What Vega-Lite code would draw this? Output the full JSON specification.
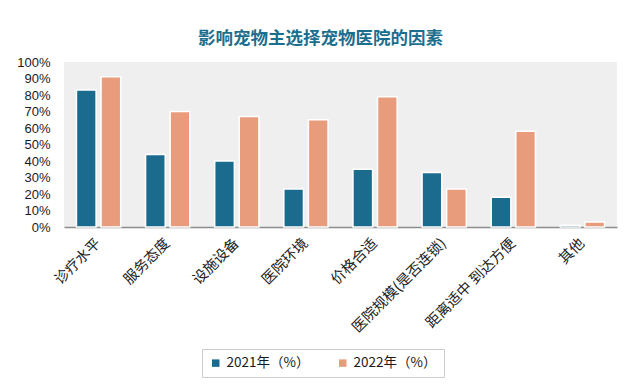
{
  "$schema": "https://vega.github.io/schema/vega-lite/v6.json",
  "width": 553,
  "height": 165,
  "autosize": {"type": "none"},
  "padding": {"left": 64, "top": 62, "right": 23, "bottom": 164},
  "background": "#FFFFFF",
  "title": {
    "text": "影响宠物主选择宠物医院的因素",
    "font": "Noto Sans CJK SC",
    "fontSize": 17.5,
    "fontWeight": "bold",
    "color": "#1C6E8E",
    "anchor": "middle",
    "dx": -20,
    "offset": 9
  },
  "data": {
    "values": [
      {"factor": "诊疗水平", "year": "2021年（%）", "value": 0.83},
      {"factor": "诊疗水平", "year": "2022年（%）", "value": 0.91},
      {"factor": "服务态度", "year": "2021年（%）", "value": 0.44},
      {"factor": "服务态度", "year": "2022年（%）", "value": 0.70},
      {"factor": "设施设备", "year": "2021年（%）", "value": 0.40},
      {"factor": "设施设备", "year": "2022年（%）", "value": 0.67},
      {"factor": "医院环境", "year": "2021年（%）", "value": 0.23},
      {"factor": "医院环境", "year": "2022年（%）", "value": 0.65},
      {"factor": "价格合适", "year": "2021年（%）", "value": 0.35},
      {"factor": "价格合适", "year": "2022年（%）", "value": 0.79},
      {"factor": "医院规模(是否连锁)", "year": "2021年（%）", "value": 0.33},
      {"factor": "医院规模(是否连锁)", "year": "2022年（%）", "value": 0.23},
      {"factor": "距离适中 到达方便", "year": "2021年（%）", "value": 0.18},
      {"factor": "距离适中 到达方便", "year": "2022年（%）", "value": 0.58},
      {"factor": "其他", "year": "2021年（%）", "value": 0.01},
      {"factor": "其他", "year": "2022年（%）", "value": 0.03}
    ]
  },
  "mark": {"type": "bar", "stroke": "#FFFFFF", "strokeWidth": 1.5},
  "encoding": {
    "x": {
      "field": "factor",
      "type": "nominal",
      "sort": null,
      "scale": {"paddingInner": 0.36, "paddingOuter": 0.18},
      "axis": {
        "title": null,
        "labelAngle": -45,
        "labelAlign": "right",
        "labelBaseline": "middle",
        "labelFont": "Noto Sans CJK SC",
        "labelFontSize": 14.5,
        "labelColor": "#222222",
        "labelPadding": 14,
        "labelLimit": 220,
        "ticks": false,
        "domainColor": "#8C8C8C",
        "domainWidth": 1.5
      }
    },
    "xOffset": {
      "field": "year",
      "type": "nominal",
      "scale": {"paddingInner": 0.2, "paddingOuter": 0}
    },
    "y": {
      "field": "value",
      "type": "quantitative",
      "scale": {"domain": [0, 1], "nice": false},
      "axis": {
        "title": null,
        "format": ".0%",
        "values": [0, 0.1, 0.2, 0.3, 0.4, 0.5, 0.6, 0.7, 0.8, 0.9, 1],
        "grid": false,
        "domain": false,
        "ticks": false,
        "labelFont": "Liberation Sans",
        "labelFontSize": 13,
        "labelColor": "#1A1A1A",
        "labelPadding": 14
      }
    },
    "color": {
      "field": "year",
      "type": "nominal",
      "scale": {"range": ["#1B6B8F", "#E89C7B"]},
      "legend": {
        "title": null,
        "orient": "none",
        "legendX": 138,
        "legendY": 287,
        "direction": "horizontal",
        "columns": 2,
        "symbolType": "square",
        "symbolSize": 56,
        "symbolStrokeWidth": 0,
        "labelFont": "Noto Sans CJK SC",
        "labelFontSize": 13.5,
        "labelColor": "#1A1A1A",
        "columnPadding": 26,
        "padding": 7,
        "strokeColor": "#CCCCCC",
        "fillColor": "#FFFFFF"
      }
    }
  },
  "config": {
    "view": {"stroke": null, "fill": "#EFEFEF"}
  }
}
